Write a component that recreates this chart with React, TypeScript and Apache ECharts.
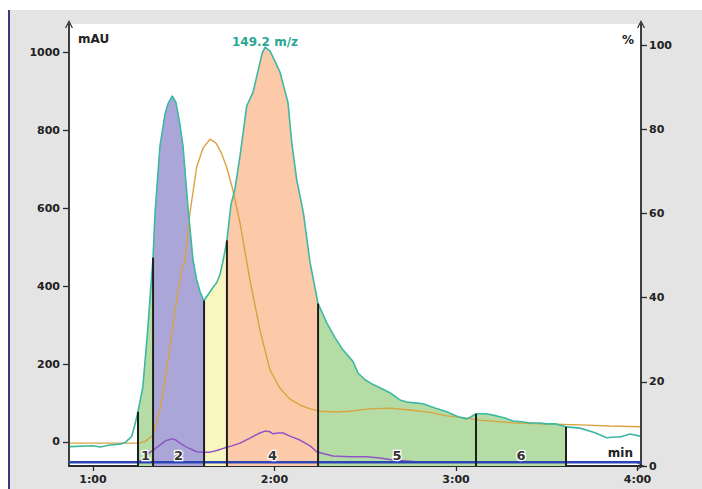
import React, { useEffect, useRef } from "react";
import * as echarts from "echarts";

// ---- data (time in minutes) ----
const xTicks = [1, 2, 3, 4];
const leftTicks = [0, 200, 400, 600, 800, 1000];
const rightTicks = [0, 20, 40, 60, 80, 100];

// MS trace 149.2 m/z, % (right axis)
const tealTrace: number[][] = [
  [0.873, 4.6], [1.0, 4.8], [1.039, 4.5], [1.094, 5.0], [1.149, 5.2], [1.176, 5.5], [1.193, 6.2],
  [1.213, 7.0], [1.231, 9.8], [1.248, 12.9], [1.275, 18.8], [1.303, 33.1], [1.323, 45.0], [1.331, 49.5],
  [1.342, 60.2], [1.369, 76.0], [1.397, 83.6], [1.413, 86.0], [1.437, 87.9], [1.457, 86.4], [1.479, 81.2],
  [1.496, 76.0], [1.523, 61.7], [1.551, 49.0], [1.571, 44.3], [1.59, 41.4], [1.608, 39.5], [1.612, 39.3],
  [1.626, 40.2], [1.645, 41.4], [1.661, 42.4], [1.682, 43.6], [1.7, 45.5], [1.716, 48.6], [1.738, 53.6],
  [1.76, 62.1], [1.782, 65.7], [1.81, 73.6], [1.847, 85.5], [1.882, 88.8], [1.909, 93.8], [1.931, 97.9],
  [1.948, 99.5], [1.975, 98.6], [2.002, 96.2], [2.03, 93.6], [2.052, 90.0], [2.074, 86.4], [2.095, 76.9],
  [2.122, 68.1], [2.159, 60.2], [2.196, 48.3], [2.24, 38.6], [2.288, 34.0], [2.333, 30.5], [2.377, 27.6],
  [2.433, 24.8], [2.46, 22.1], [2.499, 20.5], [2.537, 19.5], [2.581, 18.6], [2.636, 17.4], [2.691, 15.7],
  [2.728, 15.2], [2.774, 15.0], [2.818, 14.8], [2.884, 13.8], [2.949, 12.9], [3.011, 11.7], [3.059, 11.2],
  [3.083, 11.7], [3.11, 12.4], [3.165, 12.4], [3.224, 11.9], [3.27, 11.4], [3.314, 10.7], [3.364, 10.5],
  [3.408, 10.2], [3.463, 10.2], [3.5, 10.0], [3.551, 10.0], [3.606, 9.3], [3.683, 9.0], [3.766, 7.9],
  [3.83, 6.7], [3.876, 6.9], [3.904, 6.9], [3.959, 7.6], [4.014, 7.1],
];

// UV traces, mAU (left axis)
const orangeTrace: number[][] = [
  [0.873, -3], [1.186, -3], [1.248, -3], [1.287, 1], [1.331, 18], [1.369, 82], [1.406, 185], [1.452, 338],
  [1.489, 441], [1.507, 467], [1.534, 587], [1.571, 705], [1.606, 754], [1.645, 777], [1.678, 767],
  [1.705, 744], [1.737, 705], [1.771, 646], [1.81, 562], [1.865, 415], [1.92, 287], [1.975, 185],
  [2.03, 138], [2.085, 110], [2.14, 95], [2.196, 85], [2.251, 79], [2.333, 77], [2.416, 79], [2.526, 85],
  [2.636, 87], [2.746, 82], [2.857, 76], [2.949, 67], [3.05, 62], [3.132, 56], [3.314, 49], [3.5, 46],
  [3.683, 44], [3.848, 41], [4.014, 39],
];

const purpleTrace: number[][] = [
  [0.873, -51], [1.248, -51], [1.27, -46], [1.296, -33], [1.331, -21], [1.369, -8], [1.4, 3], [1.434, 8],
  [1.457, 5], [1.479, -3], [1.516, -13], [1.571, -25], [1.606, -26], [1.645, -26], [1.682, -22],
  [1.727, -15], [1.766, -10], [1.81, -3], [1.865, 10], [1.909, 21], [1.948, 28], [1.975, 26], [1.992, 21],
  [2.019, 23], [2.047, 23], [2.085, 15], [2.14, 5], [2.196, -10], [2.233, -25], [2.278, -31], [2.322, -36],
  [2.416, -38], [2.508, -38], [2.581, -41], [2.653, -46], [2.783, -51], [2.912, -51], [4.014, -52],
];

const blueTrace: number[][] = [[0.868, -52], [4.019, -52]];

// fractions
const fractionBounds = [1.248, 1.331, 1.612, 1.738, 2.24, 3.11, 3.606];
const fractionLabels = ["1", "2", "", "4", "5", "6"];
const fractionColors = ["#b6dca5", "#aba6d8", "#f9f6bf", "#fccaa9", "#b6dca5", "#b6dca5"];

const TEAL = "#3db8a2";
const AXIS = "#2a2a2a";
const arrowPath = "path://M5,0 L10,10 L8.4,10 L5,3.2 L1.6,10 L0,10 Z";

export default function App() {
  const ref = useRef<HTMLDivElement>(null);

  useEffect(() => {
    if (!ref.current) return;
    const chart = echarts.init(ref.current, null, { renderer: "svg" });

    const tealAt = (t: number) => {
      const p = tealTrace.find((q) => Math.abs(q[0] - t) < 1e-6);
      return p ? p[1] : 0;
    };

    const fractionSeries = fractionLabels.map((_, i) => ({
      type: "line",
      xAxisIndex: 0,
      yAxisIndex: 1,
      data: tealTrace.filter((p) => p[0] >= fractionBounds[i] - 1e-9 && p[0] <= fractionBounds[i + 1] + 1e-9),
      symbol: "none",
      lineStyle: { width: 0 },
      areaStyle: { color: fractionColors[i], opacity: 1 },
      z: 1,
      silent: true,
    }));

    const labelData = fractionLabels
      .map((l, i) => ({ l, t: (fractionBounds[i] + fractionBounds[i + 1]) / 2 }))
      .filter((d) => d.l !== "")
      .map((d) => ({ value: [d.t, 2.4], name: d.l }));

    const axisFont = { color: "#222", fontWeight: "bold", fontSize: 11, fontFamily: "DejaVu Sans" };

    chart.setOption({
      animation: false,
      backgroundColor: "transparent",
      textStyle: { fontFamily: "DejaVu Sans" },
      grid: {
        left: 69,
        right: 61,
        top: 24,
        bottom: 23,
        show: true,
        backgroundColor: "#ffffff",
        borderWidth: 0,
      },
      xAxis: {
        type: "value",
        min: 0.868,
        max: 4.019,
        axisLine: {
          onZero: false,
          lineStyle: { color: AXIS, width: 1.8 },
          symbol: ["none", arrowPath],
          symbolSize: [7, 9],
        },
        axisTick: { customValues: xTicks, length: 5, lineStyle: { color: AXIS, width: 1.3 } },
        axisLabel: { customValues: xTicks, formatter: (v: number) => `${v}:00`, margin: 8, ...axisFont },
        splitLine: { show: false },
      },
      yAxis: [
        {
          type: "value",
          position: "left",
          min: -61.6,
          max: 1072.6,
          axisLine: {
            show: true,
            onZero: false,
            lineStyle: { color: AXIS, width: 1.8 },
            symbol: ["none", arrowPath],
            symbolSize: [8, 10],
          },
          axisTick: { show: true, customValues: leftTicks, length: 6, lineStyle: { color: AXIS, width: 1.3 } },
          axisLabel: { customValues: leftTicks, formatter: (v: number) => String(v), margin: 9, ...axisFont },
          splitLine: { show: false },
        },
        {
          type: "value",
          position: "right",
          min: 0,
          max: 105,
          axisLine: {
            show: true,
            onZero: false,
            lineStyle: { color: AXIS, width: 1.8 },
            symbol: ["none", arrowPath],
            symbolSize: [8, 10],
          },
          axisTick: { show: true, customValues: rightTicks, length: 6, lineStyle: { color: AXIS, width: 1.3 } },
          axisLabel: { customValues: rightTicks, formatter: (v: number) => String(v), margin: 8, ...axisFont },
          splitLine: { show: false },
        },
      ],
      series: [
        ...fractionSeries,
        {
          type: "line",
          yAxisIndex: 0,
          data: orangeTrace,
          symbol: "none",
          lineStyle: { color: "#d9a33e", width: 1.4 },
          z: 3,
        },
        {
          type: "line",
          yAxisIndex: 0,
          data: purpleTrace,
          symbol: "none",
          lineStyle: { color: "#8d55c6", width: 1.5 },
          z: 3,
        },
        {
          type: "line",
          yAxisIndex: 1,
          data: tealTrace,
          symbol: "none",
          lineStyle: { color: TEAL, width: 1.6 },
          z: 4,
        },
        {
          type: "line",
          yAxisIndex: 0,
          data: blueTrace,
          symbol: "none",
          lineStyle: { color: "#2b45b5", width: 2.4 },
          z: 5,
        },
        {
          type: "custom",
          yAxisIndex: 1,
          data: fractionBounds.map((b) => [b, tealAt(b)]),
          encode: { x: 0, y: 1 },
          z: 6,
          renderItem: (params: any, api: any) => {
            const t = api.value(0);
            const v = api.value(1);
            const p0 = api.coord([t, 0]);
            const p1 = api.coord([t, v]);
            return {
              type: "line",
              shape: { x1: p0[0], y1: p0[1], x2: p1[0], y2: p1[1] },
              style: { stroke: "#1e1e1e", lineWidth: 2 },
            };
          },
        },
        {
          type: "custom",
          yAxisIndex: 1,
          data: labelData,
          encode: { x: 0, y: 1 },
          z: 7,
          renderItem: (params: any, api: any) => {
            const p = api.coord([api.value(0), api.value(1)]);
            return {
              type: "text",
              x: p[0],
              y: p[1],
              style: {
                text: labelData[params.dataIndex].name,
                fill: "#333",
                stroke: "#ffffff",
                lineWidth: 2.5,
                font: "bold 13px DejaVu Sans",
                align: "center",
                verticalAlign: "middle",
              },
            };
          },
        },
      ],
      graphic: [
        {
          type: "text",
          x: 265,
          y: 42,
          z: 10,
          style: {
            text: "149.2 m/z",
            fill: "#2aa593",
            font: "bold 12px DejaVu Sans",
            align: "center",
            verticalAlign: "middle",
          },
        },
        {
          type: "text",
          x: 78,
          y: 39,
          z: 10,
          style: { text: "mAU", fill: "#222", font: "bold 12px DejaVu Sans", align: "left", verticalAlign: "middle" },
        },
        {
          type: "text",
          x: 634,
          y: 40,
          z: 10,
          style: { text: "%", fill: "#222", font: "bold 12px DejaVu Sans", align: "right", verticalAlign: "middle" },
        },
        {
          type: "text",
          x: 633,
          y: 453,
          z: 10,
          style: { text: "min", fill: "#222", font: "bold 12px DejaVu Sans", align: "right", verticalAlign: "middle" },
        },
      ],
    });

    return () => chart.dispose();
  }, []);

  return (
    <div style={{ position: "fixed", left: 0, top: 0, width: 702, height: 489, background: "#ffffff" }}>
      <div
        style={{
          position: "absolute",
          left: 8,
          top: 10,
          right: 0,
          bottom: 0,
          background: "#e4e4e4",
          borderLeft: "2px solid #3b3a78",
        }}
      />
      <div ref={ref} style={{ position: "absolute", left: 0, top: 0, width: 702, height: 489 }} />
    </div>
  );
}
